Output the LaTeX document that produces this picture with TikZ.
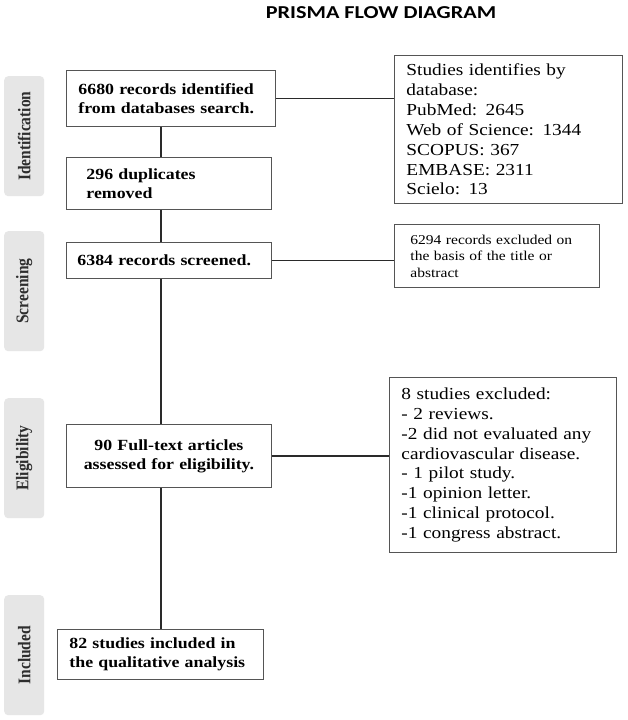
\documentclass[tikz,border=0pt]{standalone}
\usepackage{fontspec}
\setmainfont{Liberation Serif}[FakeStretch=1.15]
\newfontfamily\sidefont{Liberation Serif}
\newfontfamily\titlefont{Carlito}[FakeStretch=1.22]
\definecolor{boxgray}{HTML}{555555}
\definecolor{linegray}{HTML}{2A2A2A}
\definecolor{sidegray}{HTML}{E6E6E6}
\definecolor{sidetextgray}{HTML}{2E2E2E}
\begin{document}
\begin{tikzpicture}[x=1pt,y=-1pt,
  box/.style={draw=boxgray, line width=0.9pt, inner ysep=0pt, anchor=north west, align=left},
  boldtxt/.style={font=\fontsize{15.5}{19}\selectfont\bfseries},
  regtxt/.style={font=\fontsize{16.8}{19.9}\selectfont},
  smalltxt/.style={font=\fontsize{13.5}{16.5}\selectfont},
  side/.style={fill=sidegray, rounded corners=4pt, anchor=north west, inner sep=0pt, minimum width=40pt},
  sidetext/.style={rotate=90, text=sidetextgray, font=\sidefont\fontsize{15.5}{18}\selectfont\bfseries, inner sep=0pt},
  conn/.style={draw=linegray, line width=1.1pt}]
\useasboundingbox (0,0) rectangle (627,720);
\fill[white] (0,0) rectangle (627,720);

\node[font=\titlefont\bfseries\fontsize{18.2}{21}\selectfont, inner sep=0pt] (title) at (381,12.5) {PRISMA FLOW DIAGRAM};

% sidebars
\node[side, minimum height=120pt] (s1) at (4,76) {};
\node[sidetext] (s1t) at (s1.center) {\scalebox{1}[1.15]{Identification}};
\node[side, minimum height=120pt] (s2) at (4,231) {};
\node[sidetext] (s2t) at (s2.center) {\scalebox{1}[1.15]{Screening}};
\node[side, minimum height=120pt] (s3) at (4,398) {};
\node[sidetext] (s3t) at (s3.center) {\scalebox{1}[1.15]{Eligibility}};
\node[side, minimum height=120pt] (s4) at (4,595) {};
\node[sidetext] (s4t) at (s4.center) {\scalebox{1}[1.15]{Included}};

% main boxes
\node[box, boldtxt, inner xsep=12pt, text width=185pt, minimum height=56pt] (b1) at (66,70)
  {6680 records identified\\from databases search.};
\node[box, boldtxt, inner xsep=20pt, text width=165pt, minimum height=52pt] (b2) at (66,157)
  {296 duplicates\\removed};
\node[box, boldtxt, inner xsep=11pt, text width=183pt, minimum height=36pt] (b3) at (66,242)
  {6384 records screened.};
\node[box, boldtxt, inner xsep=8pt, text width=189pt, minimum height=63pt, align=center] (b4) at (66,424)
  {90 Full-text articles\\assessed for eligibility.};
\node[box, boldtxt, inner xsep=12pt, text width=182pt, minimum height=50pt] (b5) at (57,629)
  {82 studies included in\\the qualitative analysis};

% right boxes
\node[box, regtxt, inner xsep=12pt, text width=204pt, minimum height=148pt] (r1) at (394,55)
  {Studies identifies by\\database:\\PubMed: 2645\\Web of Science: 1344\\SCOPUS: 367\\EMBASE: 2311\\Scielo: 13};
\node[box, smalltxt, inner xsep=16pt, text width=173pt, minimum height=63pt] (r2) at (394,224)
  {6294 records excluded on\\the basis of the title or\\abstract};
\node[box, regtxt, inner xsep=12pt, text width=203pt, minimum height=175pt] (r3) at (389,377)
  {8 studies excluded:\\- 2 reviews.\\-2 did not evaluated any\\cardiovascular disease.\\- 1 pilot study.\\-1 opinion letter.\\-1 clinical protocol.\\-1 congress abstract.};

% connectors
\coordinate (vx) at (161,0);
\draw[conn] (b1.south -| vx) -- (b2.north -| vx);
\draw[conn] (b2.south -| vx) -- (b3.north -| vx);
\draw[conn] (b3.south -| vx) -- (b4.north -| vx);
\draw[conn] (b4.south -| vx) -- (b5.north -| vx);
\draw[conn] (b1.east) -- (b1.east -| r1.west);
\draw[conn] (b3.east) -- (b3.east -| r2.west);
\draw[conn] (b4.east) -- (b4.east -| r3.west);
\end{tikzpicture}
\end{document}
